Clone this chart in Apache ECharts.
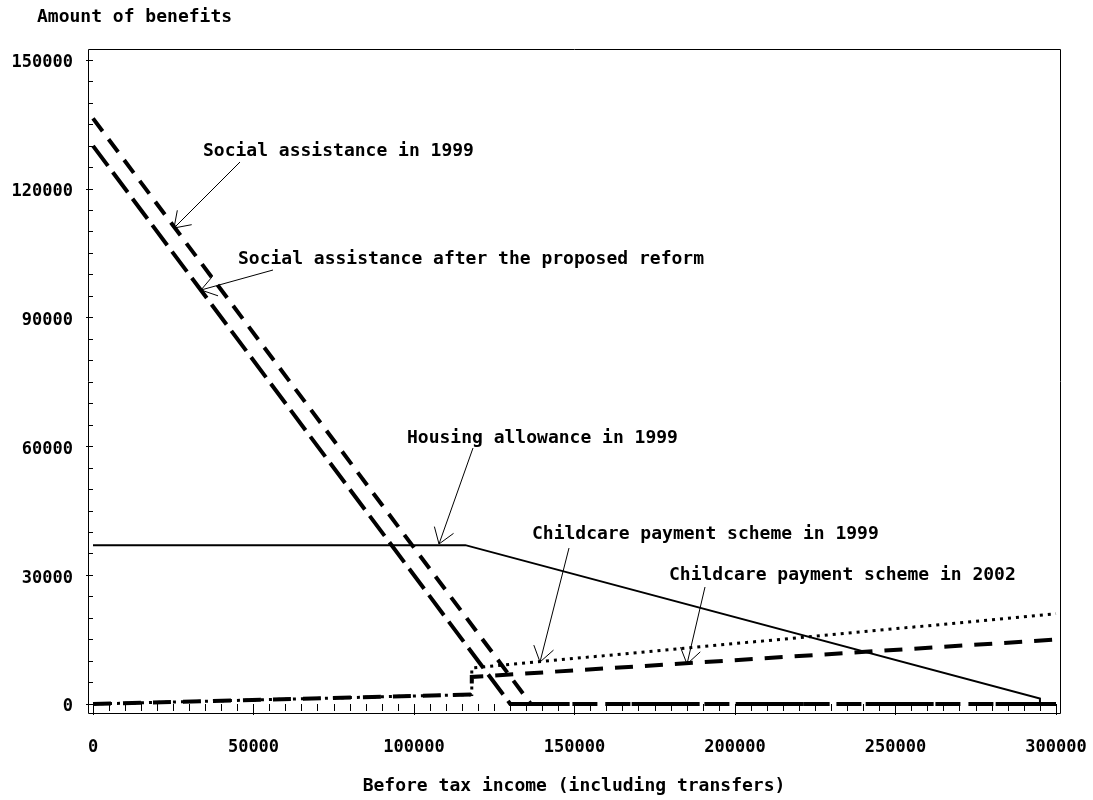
<!DOCTYPE html>
<html>
<head>
<meta charset="utf-8">
<script src="https://cdn.jsdelivr.net/npm/echarts@6/dist/echarts.min.js"></script>
<style>html,body{margin:0;padding:0;background:#fff;}#chart{width:1093px;height:800px;}</style>
</head>
<body>
<div id="chart"></div>
<script>
// ---- data ----
const xTicks = [0, 50000, 100000, 150000, 200000, 250000, 300000];
const yTicks = [0, 30000, 60000, 90000, 120000, 150000];

const saIncome1999 = [0, 136400, 300000];
const saValue1999 = [136400, 0, 0];

const saIncomeReform = [0, 130000, 300000];
const saValueReform = [130000, 0, 0];

const housingIncome = [0, 116000, 295000, 295000, 300000];
const housingValue = [37000, 37000, 1300, 0, 0];

const cc1999Income = [0, 118000, 118000, 300000];
const cc1999Value = [0, 2200, 8400, 21000];

const cc2002Income = [0, 118000, 118000, 300000];
const cc2002Value = [0, 2200, 6300, 15000];

const yTitle = 'Amount of benefits';
const xTitle = 'Before tax income (including transfers)';
const notes = [
  'Social assistance in 1999',
  'Social assistance after the proposed reform',
  'Housing allowance in 1999',
  'Childcare payment scheme in 1999',
  'Childcare payment scheme in 2002'
];

// ---- layout (pixels) ----
const noteLayout = [
  {x: 203, y: 151, from: [240, 162], to: [174, 228]},
  {x: 238, y: 259, from: [273, 270], to: [201, 290]},
  {x: 407, y: 438, from: [473, 448], to: [439, 544]},
  {x: 532, y: 534, from: [569, 548], to: [540, 662]},
  {x: 669, y: 575, from: [705, 587], to: [687, 664]}
];

const FONT = 'DejaVu Sans Mono';
const pairs = (xs, ys) => xs.map((x, i) => [x, ys[i]]);

const chart = echarts.init(document.getElementById('chart'), null, {renderer: 'canvas'});

const graphics = [];
graphics.push({
  type: 'rect', silent: true,
  shape: {x: 88.5, y: 49.5, width: 972, height: 664},
  style: {fill: 'none', stroke: '#000', lineWidth: 1}
});
graphics.push({
  type: 'text', x: 37, y: 17,
  style: {text: yTitle, font: 'bold 18px "' + FONT + '"', fill: '#000', textAlign: 'left', textVerticalAlign: 'middle'}
});
graphics.push({
  type: 'text', x: 574, y: 786,
  style: {text: xTitle, font: 'bold 18px "' + FONT + '"', fill: '#000', textAlign: 'center', textVerticalAlign: 'middle'}
});
noteLayout.forEach((n, i) => {
  graphics.push({
    type: 'text', x: n.x, y: n.y,
    style: {text: notes[i], font: 'bold 18px "' + FONT + '"', fill: '#000', textAlign: 'left', textVerticalAlign: 'middle'}
  });
  graphics.push({
    type: 'line', silent: true,
    shape: {x1: n.from[0], y1: n.from[1], x2: n.to[0], y2: n.to[1]},
    style: {stroke: '#000', lineWidth: 1}
  });
  const ang = Math.atan2(n.from[1] - n.to[1], n.from[0] - n.to[0]);
  const L = 18, spread = 0.6;
  [ang - spread, ang + spread].forEach(a => {
    graphics.push({
      type: 'line', silent: true,
      shape: {x1: n.to[0], y1: n.to[1], x2: n.to[0] + L * Math.cos(a), y2: n.to[1] + L * Math.sin(a)},
      style: {stroke: '#000', lineWidth: 1}
    });
  });
});

function lineSeries(name, data, width, type, z) {
  return {
    name, type: 'line', data, showSymbol: false, symbol: 'none', z,
    lineStyle: {color: '#000', width, type, cap: 'butt', join: 'miter'},
    emphasis: {disabled: true}, animation: false
  };
}

const plain = v => String(v);

chart.setOption({
  animation: false,
  backgroundColor: '#fff',
  grid: {left: 93, right: 37, top: 60, bottom: 96, outerBoundsMode: 'none', containLabel: false},
  xAxis: {
    type: 'value', min: xTicks[0], max: xTicks[xTicks.length - 1], interval: 50000,
    offset: 10,
    axisLine: {show: false},
    axisTick: {show: true, length: 11, lineStyle: {color: '#000', width: 1}},
    minorTick: {show: true, splitNumber: 10, length: 7, lineStyle: {color: '#000', width: 1}},
    splitLine: {show: false}, minorSplitLine: {show: false},
    axisLabel: {color: '#000', fontFamily: FONT, fontWeight: 'bold', fontSize: 17, margin: 25, showMinLabel: true, showMaxLabel: true, formatter: plain}
  },
  yAxis: {
    type: 'value', min: yTicks[0], max: yTicks[yTicks.length - 1], interval: 30000,
    offset: 5,
    axisLine: {show: false},
    axisTick: {show: true, length: 7, lineStyle: {color: '#000', width: 1}},
    minorTick: {show: true, splitNumber: 6, length: 4, lineStyle: {color: '#000', width: 1}},
    splitLine: {show: false}, minorSplitLine: {show: false},
    axisLabel: {color: '#000', fontFamily: FONT, fontWeight: 'bold', fontSize: 17, margin: 15, verticalAlign: 'top', lineHeight: 6, formatter: plain}
  },
  series: [
    lineSeries('Housing allowance in 1999', pairs(housingIncome, housingValue), 2, 'solid', 2),
    lineSeries('Childcare payment scheme in 1999', pairs(cc1999Income, cc1999Value), 3, [3, 5], 3),
    lineSeries('Childcare payment scheme in 2002', pairs(cc2002Income, cc2002Value), 4, [18, 12], 4),
    lineSeries('Social assistance in 1999', pairs(saIncome1999, saValue1999), 4, [16, 10], 5),
    lineSeries('Social assistance after the proposed reform', pairs(saIncomeReform, saValueReform), 4, [25, 8], 6)
  ],
  graphic: graphics
});
</script>
</body>
</html>
